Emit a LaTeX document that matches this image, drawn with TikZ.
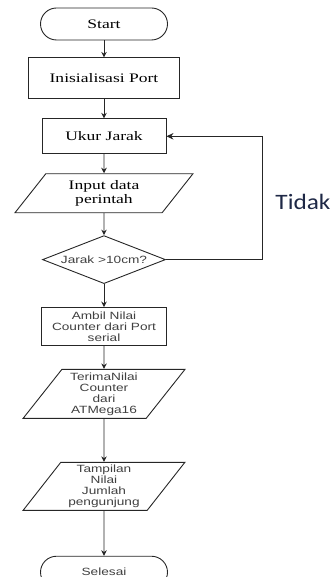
\documentclass[tikz,border=0pt]{standalone}
\usepackage{fontspec}
\setmainfont[FakeStretch=1.35]{Liberation Serif}
\setsansfont[FakeStretch=1.3]{Liberation Sans}
\newfontfamily\tidakfont[FakeStretch=1.15]{Carlito}
\usetikzlibrary{positioning,shapes.geometric,arrows.meta}
\definecolor{tidakblue}{RGB}{30,40,70}

\begin{document}
\begin{tikzpicture}[x=1pt, y=1pt, line width=0.9pt, draw=black!85, >={Stealth[length=5.5pt,width=5.5pt]}, every node/.style={align=center, inner sep=1pt}]

\tikzstyle{terminal}=[draw, rounded corners=16pt, minimum width=127pt, minimum height=32pt]
\tikzstyle{proses}=[draw, font=\fontsize{13}{14}\selectfont]
\tikzstyle{io}=[draw, trapezium, trapezium left angle=54, trapezium right angle=126, trapezium stretches=true, inner sep=0pt]
\tikzstyle{keputusan}=[draw, diamond, aspect=2.56, inner sep=0pt, minimum width=123pt, minimum height=48pt]
\tikzstyle{kecil}=[font=\sffamily\fontsize{10.5}{11}\selectfont, text=black!75]

\useasboundingbox (0,0) rectangle (334,-577);
\clip (0,0) rectangle (334,-577);

\node[terminal, font=\fontsize{13}{14}\selectfont] (start) at (104,-24) {Start};
\node[proses, minimum width=151pt, minimum height=41pt, below=17pt of start] (init) {Inisialisasi Port};
\node[proses, minimum width=124pt, minimum height=35pt, below=19pt of init] (ukur) {Ukur Jarak};
\node[io, font=\fontsize{13}{14}\selectfont, minimum width=178pt, minimum height=39pt, below=19pt of ukur] (input) {Input data\\perintah};
\node[keputusan, kecil, below=22pt of input] (jarak) {Jarak >10cm?};
\node[draw, kecil, minimum width=125pt, minimum height=38pt, below=23pt of jarak] (ambil) {Ambil Nilai\\Counter dari Port\\serial};
\node[io, kecil, minimum width=162pt, minimum height=49pt, below=23pt of ambil] (terima) {TerimaNilai\\Counter\\dari\\ATMega16};
\node[io, kecil, minimum width=162pt, minimum height=48pt, below=43pt of terima] (tampil) {Tampilan\\Nilai\\Jumlah\\pengunjung};
\node[terminal, kecil, below=45pt of tampil] (selesai) {Selesai};

\node[font=\tidakfont\fontsize{22}{24}\selectfont, text=tidakblue, anchor=west] (tidak) at (274,-202) {Tidak};

\draw[->] (start) -- (init);
\draw[->] (init) -- (ukur);
\draw[->] (ukur) -- (input);
\draw[->] (input) -- (jarak);
\draw[->] (jarak) -- (ambil);
\draw[->] (ambil) -- (terima);
\draw[->] (terima) -- (tampil);
\draw[->] (tampil) -- (selesai);
\draw[->, >={Stealth[length=7pt,width=6.5pt]}] (jarak.east) -- ++(96,0) |- (ukur.east);
\end{tikzpicture}
\end{document}
